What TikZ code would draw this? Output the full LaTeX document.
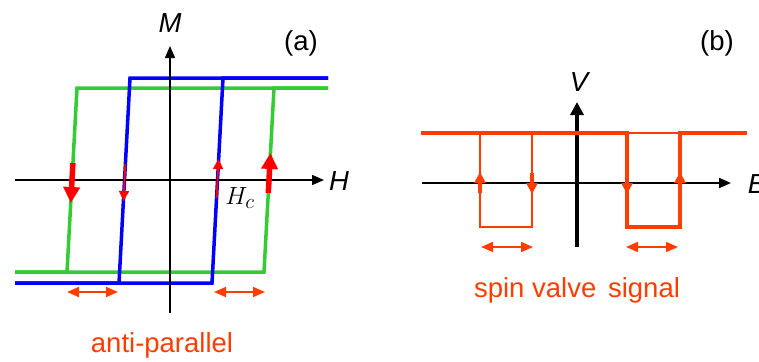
\documentclass[tikz,border=0pt]{standalone}
\usepackage{fontspec}
\setmainfont{Liberation Sans}
\usetikzlibrary{arrows.meta}
\definecolor{loopgreen}{RGB}{51,204,51}
\definecolor{loopblue}{RGB}{0,0,255}
\definecolor{signal}{RGB}{255,61,0}
\begin{document}
\begin{tikzpicture}[x=1pt,y=-1pt,font=\fontsize{27.5}{32}\selectfont,
    axis/.style={black,line width=1.6pt,-{Triangle[length=12pt,width=10pt]}},
    gloop/.style={loopgreen,line width=3.5pt},
    bloop/.style={loopblue,line width=3.5pt},
    bigflip/.style={red,line width=5.5pt,-{Triangle[length=16pt,width=16pt]}},
    smallflip/.style={red,line width=1.8pt,-{Triangle[length=10pt,width=10pt]}},
    span/.style={signal,line width=1.8pt,{Triangle[length=12pt,width=10pt]}-{Triangle[length=12pt,width=10pt]}},
    tick/.style={signal,line width=4pt,-{Triangle[length=11pt,width=11pt]}}]
    \useasboundingbox (0,0) rectangle (759,361);
    % (a) hysteresis loops
    \coordinate (Mlo) at (170,313);
    \coordinate (Mhi) at (170,46);
    \coordinate (Hlo) at (15,180);
    \coordinate (Hhi) at (324,180);
    \draw[gloop] (328,88) -- (77,88) -- (67,272) -- (15,272);
    \draw[gloop] (15,272) -- (264,272) -- (274,88) -- (328,88);
    \draw[bloop] (328,78) -- (130,78) -- (119,283) -- (15,283);
    \draw[bloop] (15,283) -- (212,283) -- (223,78) -- (328,78);
    \draw[axis] (Mlo) -- (Mhi);
    \draw[axis] (Hlo) -- (Hhi);
    \node (M) at (170,23) {\itshape M};
    \node (H) at (339,181) {\itshape H};
    \node (a) at (301,43) {(a)};
    \node (Hc) at (240,198) {\fontsize{28}{32}\selectfont$H_c$};
    \draw[bigflip] (72.9,163) -- (70.8,203);
    \draw[bigflip] (268.3,193) -- (270.4,153);
    \draw[smallflip] (125.3,164) -- (123.5,201);
    \draw[smallflip] (216.6,198) -- (218.6,159);
    \coordinate (sl1) at (67,292);
    \coordinate (sl2) at (118,292);
    \coordinate (sr1) at (214,292);
    \coordinate (sr2) at (265,292);
    \draw[span] (sl1) -- (sl2);
    \draw[span] (sr1) -- (sr2);
    \node[text=signal] (ap) at (162,345) {anti-parallel};
    % (b) spin valve signal
    \coordinate (Vlo) at (577,247);
    \coordinate (Vhi) at (577,102);
    \coordinate (Blo) at (422,183);
    \coordinate (Bhi) at (731,183);
    \draw[signal,line width=1.5pt] (480,133) -- (480,227) -- (532,227) -- (532,133);
    \draw[signal,line width=1.5pt] (627,133) -- (680,133);
    \draw[axis,line width=2pt] (Blo) -- (Bhi);
    \draw[axis,line width=4pt,-{Triangle[length=13pt,width=13pt]}] (Vlo) -- (Vhi);
    \draw[signal,line width=4.5pt,line join=miter] (421,133) -- (627,133) -- (627,227) -- (680,227) -- (680,133) -- (747,133);
    \draw[tick] (480,193) -- (480,172);
    \draw[tick] (532,173) -- (532,194);
    \draw[tick] (627,173) -- (627,194);
    \draw[tick] (680,193) -- (680,172);
    \node (V) at (579,82) {\itshape V};
    \node (B) at (757,184) {\itshape B};
    \node (b) at (717,43) {(b)};
    \coordinate (tl1) at (481,247);
    \coordinate (tl2) at (533,247);
    \coordinate (tr1) at (626,247);
    \coordinate (tr2) at (678,247);
    \draw[span] (tl1) -- (tl2);
    \draw[span] (tr1) -- (tr2);
    \node[text=signal] (svs) at (577,290) {spin valve\hspace{0.15em} signal};
\end{tikzpicture}
\end{document}
